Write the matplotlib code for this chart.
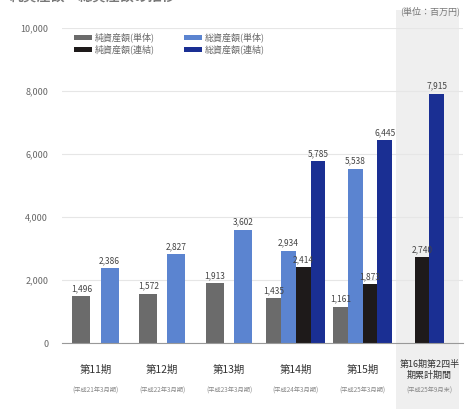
import numpy as np
import matplotlib.pyplot as plt
from matplotlib.patches import Rectangle
import matplotlib.transforms as mtransforms

plt.rcParams['font.family'] = ['Noto Sans CJK JP', 'DejaVu Sans']

# 決算期ごとの区分
kubun = ['第11期', '第12期', '第13期', '第14期', '第15期', '第16期第2四半\n期累計期間']
kikan = ['(平成21年3月期)', '(平成22年3月期)', '(平成23年3月期)',
         '(平成24年3月期)', '(平成25年3月期)', '(平成25年9月末)']

# 単位：百万円（None は該当なし）
jun_tantai = [1496, 1572, 1913, 1435, 1161, None]
sou_tantai = [2386, 2827, 3602, 2934, 5538, None]
jun_renketsu = [None, None, None, 2414, 1873, 2740]
sou_renketsu = [None, None, None, 5785, 6445, 7915]

keiretsu = [
    ('純資産額(単体)', jun_tantai, '#6b6b6b'),
    ('総資産額(単体)', sou_tantai, '#5b84d0'),
    ('純資産額(連結)', jun_renketsu, '#1e1a1a'),
    ('総資産額(連結)', sou_renketsu, '#1a2f93'),
]

fig = plt.figure(figsize=(4.67, 4.09), dpi=100)
ax = fig.add_axes([0.133, 0.161, 0.858, 0.771])

x = np.arange(len(kubun))

# 最終区分の背景（グレー）
trans = mtransforms.blended_transform_factory(ax.transData, fig.transFigure)
ax.add_patch(Rectangle((4.5, 0.0), 0.95, 0.975, transform=trans,
                       facecolor='#efefef', edgecolor='none', zorder=0,
                       clip_on=False))

for i in range(len(kubun)):
    aru = [k for k in keiretsu if k[1][i] is not None]
    n = len(aru)
    if n == 2 and aru[0][1] is jun_tantai:
        haba, ichi = 0.27, [-0.21, 0.21]
    elif n == 2:
        haba, ichi = 0.22, [-0.11, 0.11]
    else:
        haba, ichi = 0.22, [-0.33, -0.11, 0.11, 0.33]
    for (name, vals, col), dx in zip(aru, ichi):
        v = vals[i]
        ax.bar(x[i] + dx, v, width=haba, color=col, zorder=2)
        ax.text(x[i] + dx, v + 90, f'{v:,}', ha='center', va='bottom',
                fontsize=6, color='#444444', zorder=3)

# 凡例（1行目：単体、2行目：連結）
hanrei = [keiretsu[0], keiretsu[2], keiretsu[1], keiretsu[3]]
for name, vals, col in hanrei:
    ax.bar([0], [0], color=col, label=name)
leg = ax.legend(loc='upper left', bbox_to_anchor=(0.01, 1.01), ncol=2,
                frameon=False, fontsize=6.5, handlelength=2.0, handleheight=0.5,
                columnspacing=3.2, labelspacing=0.25, handletextpad=0.3)
for t in leg.get_texts():
    t.set_color('#666666')

ax.set_xlim(-0.5, 5.5)
ax.set_ylim(0, 10000)
ax.set_yticks(np.arange(0, 10001, 2000))
ax.set_yticklabels(['0'] + [f'{v:,}' for v in range(2000, 10001, 2000)],
                   fontsize=6.5, color='#666666')
ax.yaxis.grid(True, color='#e6e6e6', linewidth=0.8, zorder=0)
ax.set_axisbelow(True)
ax.tick_params(axis='y', length=0, pad=10)
ax.tick_params(axis='x', length=0)
for s in ['top', 'right', 'left']:
    ax.spines[s].set_visible(False)
ax.spines['bottom'].set_color('#999999')
ax.patch.set_alpha(0)

ax.set_xticks(x)
ax.set_xticklabels([])
for i, (k, p) in enumerate(zip(kubun, kikan)):
    if '\n' in k:
        ax.text(x[i], -530, k, ha='center', va='top', fontsize=6.5,
                color='#333333', linespacing=1.2)
    else:
        ax.text(x[i], -700, k, ha='center', va='top', fontsize=7.5,
                color='#333333')
    ax.text(x[i], -1380, p, ha='center', va='top', fontsize=4.5,
            color='#888888')

# 見出しと単位
fig.text(0.02, 1.008, '純資産額・総資産額の推移', ha='left', va='center',
         fontsize=10, fontweight='bold', color='#777777')
fig.text(0.985, 0.972, '(単位：百万円)', ha='right', va='center',
         fontsize=6.5, color='#777777')

fig.savefig('out.png', dpi=100)
